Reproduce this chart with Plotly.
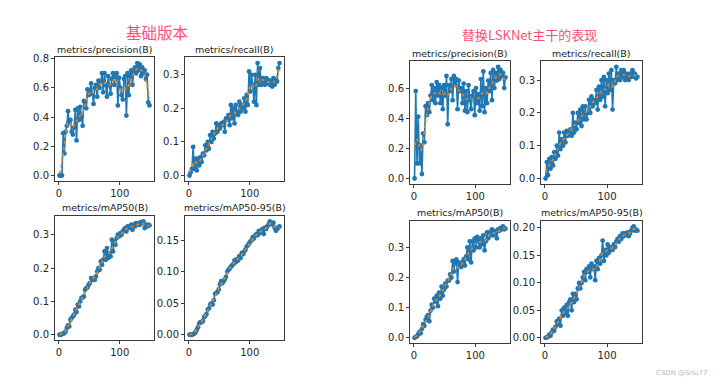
import numpy as np
import plotly.graph_objects as go

EPOCHS = list(range(1, 151, 2))

# ---- left group: 基础版本 ----
P_L = [0.0, 0.0, 0.0, 0.29, 0.15, 0.30, 0.34, 0.44, 0.36, 0.38,
       0.30, 0.28, 0.33, 0.45, 0.24, 0.46, 0.38, 0.47, 0.40, 0.34,
       0.51, 0.50, 0.46, 0.59, 0.55, 0.58, 0.63, 0.56, 0.49, 0.60,
       0.62, 0.54, 0.65, 0.60, 0.64, 0.70, 0.57, 0.70, 0.62, 0.54,
       0.68, 0.62, 0.56, 0.66, 0.70, 0.62, 0.68, 0.70, 0.48, 0.67,
       0.60, 0.55, 0.52, 0.66, 0.68, 0.41, 0.70, 0.55, 0.68, 0.72,
       0.62, 0.71, 0.74, 0.70, 0.77, 0.72, 0.76, 0.68, 0.74, 0.70,
       0.72, 0.66, 0.69, 0.50, 0.48]
R_L = [0.0, 0.01, 0.02, 0.085, 0.02, 0.05, 0.015, 0.05, 0.03, 0.055,
       0.04, 0.065, 0.06, 0.09, 0.075, 0.10, 0.08, 0.12, 0.10, 0.13,
       0.11, 0.125, 0.155, 0.13, 0.15, 0.14, 0.155, 0.15, 0.16, 0.13,
       0.17, 0.165, 0.18, 0.15, 0.21, 0.17, 0.20, 0.155, 0.21, 0.19,
       0.18, 0.22, 0.19, 0.21, 0.20, 0.23, 0.19, 0.24, 0.21, 0.31,
       0.25, 0.30, 0.27, 0.22, 0.30, 0.21, 0.335, 0.27, 0.32, 0.27,
       0.29, 0.28, 0.27, 0.29, 0.275, 0.285, 0.27, 0.28, 0.265, 0.29,
       0.27, 0.285, 0.28, 0.32, 0.335]
M50_L = [0.0, 0.0, 0.002, 0.003, 0.005, 0.01, 0.02, 0.028, 0.025, 0.045,
         0.05, 0.055, 0.06, 0.075, 0.068, 0.09, 0.085, 0.10, 0.11, 0.112,
         0.115, 0.135, 0.14, 0.142, 0.15, 0.155, 0.17, 0.165, 0.17, 0.165,
         0.175, 0.19, 0.20, 0.195, 0.22, 0.21, 0.225, 0.25, 0.225, 0.26,
         0.23, 0.245, 0.235, 0.285, 0.25, 0.28, 0.27, 0.29, 0.30, 0.295,
         0.305, 0.30, 0.31, 0.315, 0.32, 0.31, 0.325, 0.32, 0.325, 0.33,
         0.315, 0.33, 0.325, 0.335, 0.33, 0.335, 0.33, 0.338, 0.335, 0.34,
         0.32, 0.33, 0.325, 0.33, 0.328]
M95_L = [0.0, 0.0, 0.0, 0.001, 0.002, 0.004, 0.008, 0.012, 0.018, 0.02,
         0.02, 0.022, 0.028, 0.03, 0.033, 0.04, 0.042, 0.048, 0.05, 0.048,
         0.055, 0.065, 0.066, 0.068, 0.072, 0.08, 0.085, 0.082, 0.085, 0.088,
         0.092, 0.10, 0.103, 0.105, 0.108, 0.11, 0.112, 0.118, 0.115, 0.12,
         0.118, 0.125, 0.122, 0.13, 0.128, 0.132, 0.135, 0.14, 0.142, 0.145,
         0.148, 0.15, 0.155, 0.153, 0.158, 0.16, 0.158, 0.165, 0.162, 0.165,
         0.168, 0.16, 0.17, 0.168, 0.172, 0.175, 0.18, 0.178, 0.175, 0.178,
         0.17, 0.165, 0.168, 0.17, 0.172]

# ---- right group: 替换LSKNet主干的表现 ----
P_R = [0.0, 0.58, 0.10, 0.41, 0.10, 0.22, 0.03, 0.30, 0.24, 0.48,
       0.42, 0.50, 0.44, 0.55, 0.62, 0.52, 0.60, 0.50, 0.64, 0.55,
       0.62, 0.50, 0.60, 0.46, 0.62, 0.55, 0.68, 0.36, 0.62, 0.58,
       0.66, 0.52, 0.68, 0.62, 0.66, 0.46, 0.65, 0.58, 0.60, 0.50,
       0.63, 0.45, 0.58, 0.44, 0.62, 0.52, 0.46, 0.55, 0.58, 0.42,
       0.60, 0.50, 0.56, 0.45, 0.66, 0.48, 0.71, 0.44, 0.60, 0.50,
       0.65, 0.58, 0.70, 0.52, 0.72, 0.60, 0.70, 0.65, 0.74, 0.66,
       0.72, 0.68, 0.70, 0.60, 0.67]
R_R = [0.0, 0.05, 0.01, 0.06, 0.03, 0.065, 0.04, 0.08, 0.06, 0.10,
       0.07, 0.14, 0.09, 0.12, 0.10, 0.14, 0.11, 0.145, 0.13, 0.14,
       0.15, 0.13, 0.20, 0.14, 0.17, 0.15, 0.20, 0.17, 0.21, 0.16,
       0.22, 0.18, 0.22, 0.18, 0.20, 0.24, 0.20, 0.25, 0.22, 0.24,
       0.23, 0.27, 0.21, 0.28, 0.24, 0.30, 0.25, 0.31, 0.22, 0.30,
       0.26, 0.32, 0.27, 0.33, 0.21, 0.30, 0.29, 0.34, 0.30, 0.32,
       0.30, 0.33, 0.31, 0.33, 0.30, 0.32, 0.31, 0.30, 0.32, 0.31,
       0.33, 0.31, 0.32, 0.305, 0.31]
M50_R = [0.0, 0.003, 0.005, 0.012, 0.02, 0.015, 0.03, 0.045, 0.04, 0.06,
         0.07, 0.075, 0.055, 0.09, 0.11, 0.10, 0.13, 0.12, 0.14, 0.105,
         0.15, 0.13, 0.17, 0.14, 0.16, 0.18, 0.17, 0.19, 0.19, 0.21,
         0.20, 0.255, 0.22, 0.25, 0.26, 0.185, 0.25, 0.24, 0.235, 0.25,
         0.26, 0.24, 0.27, 0.30, 0.26, 0.32, 0.25, 0.32, 0.29, 0.33,
         0.30, 0.335, 0.32, 0.30, 0.33, 0.31, 0.34, 0.29, 0.32, 0.35,
         0.33, 0.35, 0.34, 0.36, 0.34, 0.355, 0.345, 0.33, 0.36, 0.355,
         0.365, 0.36, 0.37, 0.36, 0.362]
M95_R = [0.0, 0.001, 0.002, 0.006, 0.004, 0.01, 0.015, 0.013, 0.02, 0.03,
         0.025, 0.035, 0.022, 0.05, 0.04, 0.055, 0.045, 0.06, 0.04, 0.065,
         0.07, 0.05, 0.08, 0.065, 0.08, 0.07, 0.09, 0.10, 0.09, 0.10,
         0.11, 0.12, 0.105, 0.125, 0.12, 0.13, 0.11, 0.135, 0.125, 0.13,
         0.105, 0.14, 0.125, 0.145, 0.135, 0.15, 0.177, 0.14, 0.16, 0.15,
         0.17, 0.155, 0.165, 0.16, 0.16, 0.17, 0.165, 0.175, 0.18, 0.175,
         0.185, 0.18, 0.19, 0.185, 0.19, 0.188, 0.192, 0.185, 0.19, 0.195,
         0.20, 0.203, 0.195, 0.197, 0.195]

GROUP_TITLES = ["基础版本", "替换LSKNet主干的表现"]
PANEL_TITLES = ["metrics/precision(B)", "metrics/recall(B)",
                "metrics/mAP50(B)", "metrics/mAP50-95(B)"]

W, H = 720, 382


def smooth(y, sigma=1.5):
    y = np.asarray(y, float)
    r = int(4 * sigma + 0.5)
    k = np.exp(-0.5 * (np.arange(-r, r + 1) / sigma) ** 2)
    k /= k.sum()
    yp = np.concatenate([y[:r][::-1], y, y[-r:][::-1]])
    return np.convolve(yp, k, mode="valid")


# (series, title, box px (x0,x1,y0,y1), dtick, fmt)
panels = [
    (P_L, PANEL_TITLES[0], (55, 154, 54, 179), 0.2, ".1f"),
    (R_L, PANEL_TITLES[1], (185, 284, 54, 179), 0.1, ".1f"),
    (M50_L, PANEL_TITLES[2], (55, 154, 214, 340), 0.1, ".1f"),
    (M95_L, PANEL_TITLES[3], (185, 284, 214, 340), 0.05, ".2f"),
    (P_R, PANEL_TITLES[0], (410, 510, 58, 182), 0.2, ".1f"),
    (R_R, PANEL_TITLES[1], (541, 642, 58, 182), 0.1, ".1f"),
    (M50_R, PANEL_TITLES[2], (410, 510, 219, 343), 0.1, ".1f"),
    (M95_R, PANEL_TITLES[3], (541, 642, 219, 343), 0.05, ".2f"),
]

fig = go.Figure()
annotations = []
font_fam = "DejaVu Sans, Liberation Sans, sans-serif"
xs = np.array(EPOCHS, float)
xlo, xhi = xs.min(), xs.max()
xpad = 0.05 * (xhi - xlo)

for i, (ys, title, (x0, x1, y0, y1), dt, fmt) in enumerate(panels, start=1):
    ys = np.asarray(ys, float)
    sm = smooth(ys)
    xa = "x" if i == 1 else f"x{i}"
    ya = "y" if i == 1 else f"y{i}"
    fig.add_trace(go.Scatter(x=xs, y=ys, mode="lines+markers",
                             line=dict(color="#1f77b4", width=1.6),
                             marker=dict(color="#1f77b4", size=4.8),
                             xaxis=xa, yaxis=ya, showlegend=False))
    fig.add_trace(go.Scatter(x=xs, y=sm, mode="lines",
                             line=dict(color="#ff7f0e", width=1.6, dash="dot"),
                             xaxis=xa, yaxis=ya, showlegend=False))
    lo = min(ys.min(), sm.min())
    hi = max(ys.max(), sm.max())
    pad = 0.05 * (hi - lo)
    common = dict(showline=True, mirror=True, linecolor="#3a3a3a", linewidth=1,
                  showgrid=False, zeroline=False, ticks="outside", ticklen=3,
                  tickcolor="#3a3a3a", tickfont=dict(size=10, color="#262626",
                                                     family=font_fam))
    fig.layout[f"xaxis{'' if i == 1 else i}"] = dict(
        domain=[x0 / W, x1 / W], anchor=ya, range=[xlo - xpad, xhi + xpad],
        tickvals=[0, 100], **common)
    fig.layout[f"yaxis{'' if i == 1 else i}"] = dict(
        domain=[1 - y1 / H, 1 - y0 / H], anchor=xa, range=[lo - pad, hi + pad],
        tick0=0, dtick=dt, tickformat=fmt, **common)
    annotations.append(dict(text=title, xref="paper", yref="paper",
                            x=(x0 + x1) / 2 / W, y=1 - (y0 - 8) / H,
                            xanchor="center", yanchor="middle", showarrow=False,
                            font=dict(size=9.5, color="#1a1a1a", family=font_fam)))

annotations.append(dict(text=GROUP_TITLES[0], xref="paper", yref="paper",
                        x=157 / W, y=1 - 28 / H, xanchor="center", yanchor="middle",
                        showarrow=False,
                        font=dict(size=15.5, color="#ff4f78",
                                  family="Noto Sans CJK SC, sans-serif")))
annotations.append(dict(text=GROUP_TITLES[1], xref="paper", yref="paper",
                        x=529 / W, y=1 - 31 / H, xanchor="center", yanchor="middle",
                        showarrow=False,
                        font=dict(size=13, color="#ff4f78",
                                  family="Noto Sans CJK SC, sans-serif")))
annotations.append(dict(text="CSDN @Snu77", xref="paper", yref="paper",
                        x=709 / W, y=1 - 373 / H, xanchor="right", yanchor="middle",
                        showarrow=False,
                        font=dict(size=7, color="#b8b8b8", family=font_fam)))

fig.update_layout(width=W, height=H, margin=dict(l=0, r=0, t=0, b=0),
                  paper_bgcolor="white", plot_bgcolor="white",
                  annotations=annotations, showlegend=False)

fig.write_html("out.html", config={"displayModeBar": False},
               post_script="document.body.style.margin='0';"
                           "document.body.style.padding='0';")
